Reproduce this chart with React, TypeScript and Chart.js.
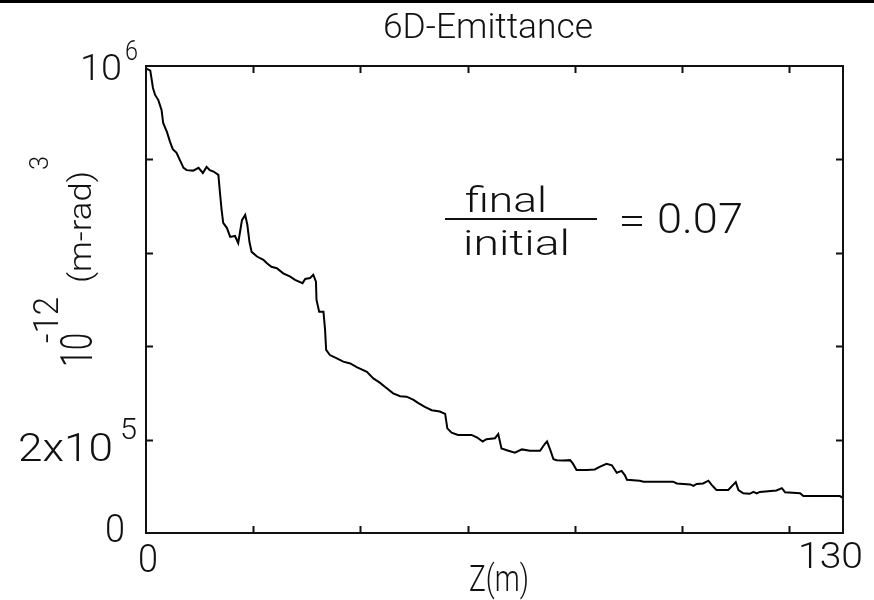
import React, { useEffect, useRef } from 'react';
import { Chart, registerables } from 'chart.js';

Chart.register(...registerables);

// ---- data ----
const zPositions = [
  0.0, 0.8, 1.3, 1.7, 2.3, 2.9, 3.2, 3.9, 4.5, 5.0, 5.7, 6.3, 7.0, 7.6, 8.8, 9.8, 10.6, 11.3, 11.9, 12.6,
  13.5, 13.8, 14.1, 14.4, 15.1, 15.7, 16.6, 17.2, 17.9, 18.5, 18.9, 19.3, 19.7, 20.7, 21.9, 22.5, 23.4, 24.4,
  25.6, 26.9, 27.8, 29.2, 29.7, 30.6, 31.2, 31.7, 31.8, 32.3, 33.1, 33.4, 33.6, 34.3, 35.6, 36.8, 38.1, 39.3,
  41.2, 42.4, 43.6, 44.9, 46.1, 47.4, 48.6, 49.9, 50.8, 52.0, 53.3, 54.8, 55.8, 56.2, 57.0, 58.2, 60.7, 61.7,
  62.8, 63.5, 65.1, 65.7, 66.3, 67.6, 68.8, 70.1, 71.6, 73.5, 74.4, 74.8, 75.4, 76.0, 76.6, 77.8, 79.1, 79.6,
  80.3, 82.2, 83.7, 84.7, 85.9, 86.9, 87.8, 88.7, 89.3, 89.7, 92.1, 92.8, 98.3, 99.0, 101.5, 102.1, 102.7,
  103.9, 104.9, 105.5, 106.4, 108.6, 109.5, 110.0, 110.5, 111.4, 112.6, 113.3, 113.9, 114.5, 117.6, 118.6,
  119.2, 122.0, 122.6, 129.4, 130.0,
];
const emittanceValues = [
  995000, 990000, 953000, 938000, 927000, 906000, 878000, 859000, 837000, 822000, 814000, 799000, 782000, 777000,
  776000, 782000, 771000, 784000, 777000, 774000, 767000, 728000, 692000, 664000, 653000, 634000, 636000, 621000,
  670000, 681000, 660000, 623000, 602000, 592000, 585000, 578000, 570000, 567000, 556000, 549000, 542000, 535000,
  544000, 546000, 553000, 538000, 499000, 474000, 474000, 435000, 392000, 381000, 374000, 367000, 363000, 355000,
  345000, 331000, 322000, 310000, 299000, 293000, 292000, 285000, 278000, 270000, 263000, 260000, 255000, 224000,
  215000, 210000, 210000, 205000, 196000, 201000, 203000, 212000, 181000, 176000, 172000, 179000, 176000, 176000,
  191000, 196000, 178000, 158000, 156000, 155000, 156000, 149000, 135000, 135000, 136000, 142000, 148000, 145000,
  129000, 133000, 124000, 114000, 112000, 110000, 110000, 106000, 104000, 101000, 105000, 106000, 112000, 103000,
  92000, 92000, 103000, 109000, 92000, 85000, 84000, 88000, 85000, 88000, 91000, 96000, 87000, 85000, 79000,
  79000, 75000,
];
const xMin = 0;
const xMax = 130;
const yMin = 0;
const yMax = 1000000;
const xTickValues = [20, 40, 60, 80, 100, 120];
const yTickValues = [200000, 400000, 600000, 800000];
const xTickLabels = ['0', '130'];
const yTickBase = ['0', '2x10', '10'];
const yTickSup = ['', '5', '6'];
const chartTitle = '6D-Emittance';
const xAxisTitle = 'Z(m)';
const yTitleParts = ['10', '-12', '(m-rad)', '3'];
const ratioParts = ['final', 'initial', '=', '0.07'];

const FONT = 'Roboto';

function fitText(
  ctx: CanvasRenderingContext2D,
  text: string,
  left: number,
  baseline: number,
  capH: number,
  width: number,
) {
  const size = capH / 0.711;
  ctx.font = `300 ${size}px ${FONT}`;
  const w = ctx.measureText(text).width;
  const sx = width / w;
  ctx.save();
  ctx.translate(left, baseline);
  ctx.scale(sx, 1);
  ctx.textAlign = 'left';
  ctx.textBaseline = 'alphabetic';
  ctx.fillText(text, 0, 0);
  ctx.restore();
}

function fitTextUp(
  ctx: CanvasRenderingContext2D,
  text: string,
  baselineX: number,
  startY: number,
  capH: number,
  length: number,
) {
  ctx.save();
  ctx.translate(baselineX, startY);
  ctx.rotate(-Math.PI / 2);
  fitText(ctx, text, 0, 0, capH, length);
  ctx.restore();
}

const decorPlugin = {
  id: 'decor',
  afterDraw(chart: any) {
    const ctx: CanvasRenderingContext2D = chart.ctx;
    const xs = chart.scales.x;
    const ys = chart.scales.y;
    const { left, right, top, bottom } = chart.chartArea;
    ctx.save();
    ctx.fillStyle = '#000';
    ctx.strokeStyle = '#111';
    // top black band
    ctx.fillRect(0, 0, chart.width, 3);

    // frame
    ctx.lineWidth = 2;
    ctx.strokeRect(left, top, right - left, bottom - top);

    // ticks (inward)
    ctx.beginPath();
    for (const v of xTickValues) {
      const px = Math.round(xs.getPixelForValue(v)) + 0.5;
      ctx.moveTo(px, bottom);
      ctx.lineTo(px, bottom - 7);
      ctx.moveTo(px, top);
      ctx.lineTo(px, top + 7);
    }
    for (const v of yTickValues) {
      const py = Math.round(ys.getPixelForValue(v)) + 0.5;
      ctx.moveTo(left, py);
      ctx.lineTo(left + 7, py);
      ctx.moveTo(right, py);
      ctx.lineTo(right - 7, py);
    }
    ctx.stroke();

    ctx.fillStyle = '#111';
    // title
    fitText(ctx, chartTitle, 383, 38, 25, 210);

    // x tick labels
    const x0 = xs.getPixelForValue(xMin);
    const x1 = xs.getPixelForValue(xMax);
    fitText(ctx, xTickLabels[0], x0 - 8, 572, 27, 20);
    fitText(ctx, xTickLabels[1], x1 - 45, 568, 26, 65);

    // y tick labels
    const y0 = ys.getPixelForValue(yMin);
    const y2 = ys.getPixelForValue(200000);
    const y6 = ys.getPixelForValue(yMax);
    fitText(ctx, yTickBase[0], left - 41, y0 + 9, 27, 20);
    fitText(ctx, yTickBase[1], left - 128, y2 + 21, 28, 95);
    fitText(ctx, yTickSup[1], left - 26, y2 - 1, 21, 17);
    fitText(ctx, yTickBase[2], left - 66, y6 + 14, 26, 42);
    fitText(ctx, yTickSup[2], left - 21, y6 - 6, 19, 13);

    // x axis title
    fitText(ctx, xAxisTitle, 469, 591, 26, 60);

    // y axis title (rotated)
    fitTextUp(ctx, yTitleParts[0], 92, 367, 32, 34);
    fitTextUp(ctx, yTitleParts[1], 58, 343, 25, 46);
    fitTextUp(ctx, yTitleParts[2], 91, 283, 22, 112);
    fitTextUp(ctx, yTitleParts[3], 48, 170, 18, 14);

    // ratio annotation
    fitText(ctx, ratioParts[0], 465, 212, 25, 82);
    ctx.fillRect(445, 218, 152, 2);
    fitText(ctx, ratioParts[1], 463, 255, 25, 107);
    ctx.fillRect(622, 216, 20, 2);
    ctx.fillRect(622, 224, 20, 2);
    fitText(ctx, ratioParts[3], 657, 233, 30, 86);

    ctx.restore();
  },
};

export default function App() {
  const ref = useRef<HTMLCanvasElement>(null);
  useEffect(() => {
    if (!ref.current) return;
    const points = zPositions.map((z, i) => ({ x: z, y: emittanceValues[i] }));
    const chart = new Chart(ref.current, {
      type: 'line',
      data: {
        datasets: [
          {
            data: points,
            borderColor: '#000',
            borderWidth: 2,
            pointRadius: 0,
            tension: 0,
            fill: false,
          },
        ],
      },
      options: {
        animation: false,
        responsive: false,
        devicePixelRatio: 1,
        layout: { padding: { left: 146, right: 31, top: 66, bottom: 67 } },
        plugins: { legend: { display: false }, tooltip: { enabled: false }, title: { display: false } },
        scales: {
          x: { type: 'linear', min: xMin, max: xMax, display: false },
          y: { type: 'linear', min: yMin, max: yMax, display: false },
        },
      },
      plugins: [decorPlugin],
    });
    return () => chart.destroy();
  }, []);
  return (
    <div style={{ position: 'fixed', left: 0, top: 0, width: 874, height: 600, background: '#fff' }}>
      <canvas ref={ref} width={874} height={600} />
    </div>
  );
}
